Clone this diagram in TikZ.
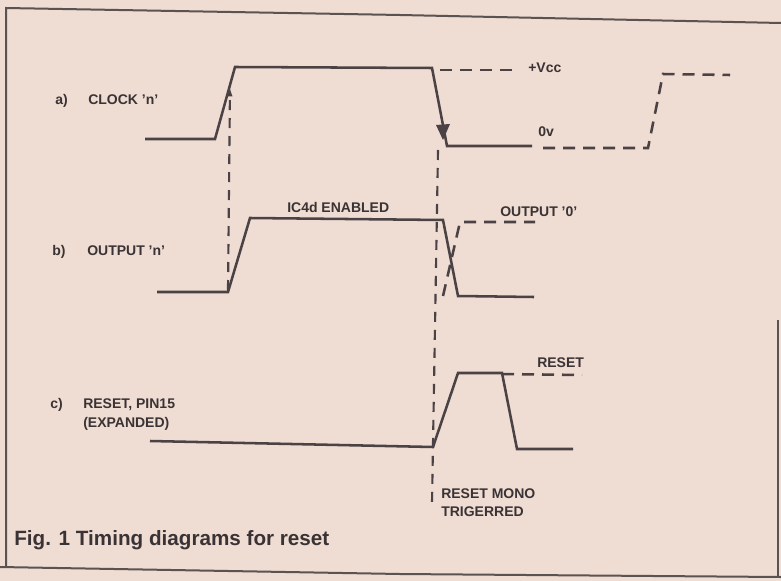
\documentclass[tikz,border=0pt]{standalone}
\usepackage{fontspec}
\setmainfont{Liberation Sans}
\usepackage{xcolor}
\usetikzlibrary{arrows.meta}
\definecolor{paper}{HTML}{EFDCD2}
\definecolor{ink}{HTML}{4A4244}
\definecolor{textink}{HTML}{3A3335}
\definecolor{frameink}{HTML}{5A5352}

\begin{document}
\begin{tikzpicture}[x=0.75pt,y=-0.75pt,font=\bfseries\fontsize{10.5}{12}\selectfont,
  wave/.style={ink,line width=1.9pt,line join=miter},
  dashwave/.style={wave,dash pattern=on 9pt off 6pt},
  guide/.style={ink,line width=1.6pt,dash pattern=on 7.5pt off 6pt},
  lbl/.style={textink,anchor=base west,inner sep=0pt}]
  % page
  \fill[paper] (0,0) rectangle (781,581);
  \useasboundingbox (0,0) rectangle (781,581);
  % frame
  \draw[frameink,line width=1.5pt] (6,567) -- (6,8) -- (400,15) -- (781,23);
  \draw[frameink,line width=1.5pt] (0,567) -- (400,574) -- (781,577);
  \draw[frameink,line width=1.2pt] (778,320) -- (778,577);
  % a) clock
  \draw[wave] plot coordinates {(145,139)(215,139)(235,67)(432,68)(447,146)(532,146)};
  \draw[dashwave] (440,70) -- (517,70);
  \draw[dashwave] plot coordinates {(543,148)(648,148)(663,74)(730,75)};
  \fill[ink] (436,125) -- (450,124) -- (443,140) -- cycle;
  % b) output
  \draw[wave] plot coordinates {(157,292)(228,292)(250,218)(443,220)(458,296)(534,297)};
  \draw[dashwave] plot coordinates {(443,296)(460,222)(535,222)};
  % c) reset
  \draw[wave] plot coordinates {(150,441)(433,447)(458,373)(502,373)(517,449)(573,449)};
  \draw[dashwave] (502,374) -- (582,375);
  % guides
  \coordinate (clkrise) at (230,87);
  \coordinate (outrise) at (228,290);
  \coordinate (clkfall) at (438,150);
  \coordinate (monotrig) at (432,503);
  \draw[guide,-{Latex[length=7pt,width=4pt]}] (outrise) -- (clkrise);
  \draw[guide] (clkfall) -- (monotrig);
  % labels
  \node[lbl] (la) at (55,105) {a)};
  \node[lbl] (clkname) at (88,105) {CLOCK 'n'};
  \node[lbl] (lb) at (52,255) {b)};
  \node[lbl] (outname) at (87,255) {OUTPUT 'n'};
  \node[lbl] (lc) at (50,408) {c)};
  \node[lbl] (rstname) at (83,408) {RESET, PIN15};
  \node[lbl] (expanded) at (83,427) {(EXPANDED)};
  \node[lbl] (vcc) at (528,73) {+Vcc};
  \node[lbl] (zerov) at (538,137) {0v};
  \node[lbl] (enabled) at (287,212) {IC4d ENABLED};
  \node[lbl] (outzero) at (500,216) {OUTPUT '0'};
  \node[lbl] (rsthigh) at (537,367) {RESET};
  \node[lbl] (mono) at (441,498) {RESET MONO};
  \node[lbl] (trig) at (441,516) {TRIGERRED};
  \node[lbl,font=\bfseries\fontsize{15.5}{18}\selectfont] (caption) at (14,545)
    {Fig. 1 Timing diagrams for reset};
\end{tikzpicture}
\end{document}
